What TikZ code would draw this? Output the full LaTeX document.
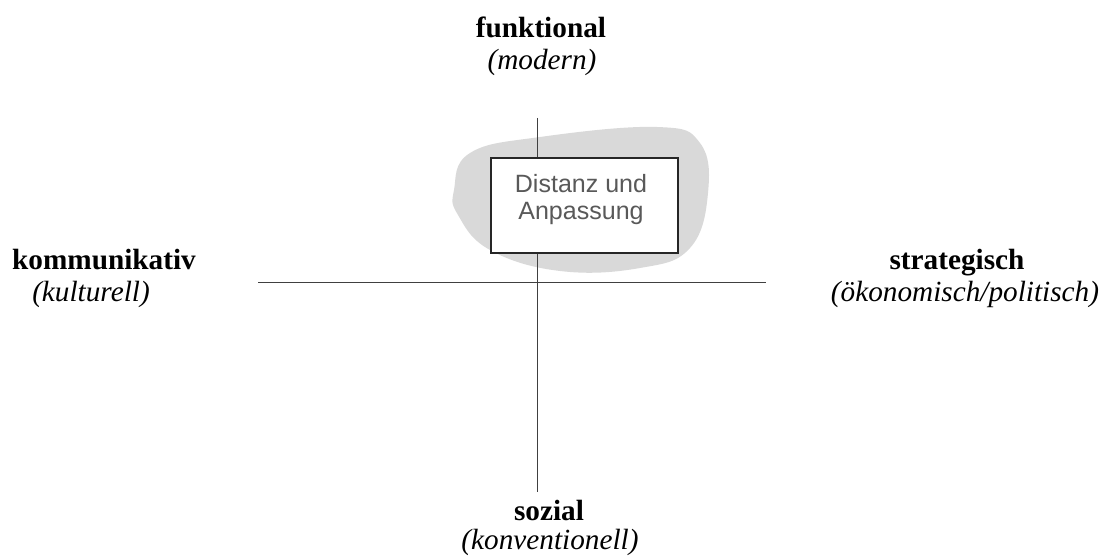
\documentclass[tikz,border=0pt]{standalone}
\usepackage{fontspec}
\setmainfont{Liberation Serif}
\newfontfamily\boxfont{Liberation Sans}
\usetikzlibrary{positioning}

\tikzset{
  pole/.style={font=\fontsize{20.8}{24}\selectfont\bfseries, inner sep=0pt,
    anchor=base},
  polesub/.style={font=\fontsize{20.8}{24}\selectfont\itshape, inner sep=0pt,
    anchor=base},
  axis/.style={draw=black!75, line width=0.7pt},
  quadbox/.style={draw=black!85, fill=white, line width=0.9pt,
    minimum width=4.675cm, minimum height=2.375cm},
  quadtext/.style={font=\boxfont\fontsize{17.8}{19.2}\selectfont, text=black!65,
    align=center, inner sep=0pt}
}

\begin{document}
\begin{tikzpicture}[x=0.025cm,y=-0.025cm]
  \useasboundingbox (0,0) rectangle (1107,557);
  % grey area behind the box
  \fill[black!15] plot[smooth cycle, tension=0.7] coordinates {
    (454,190) (470,153) (540,137) (657,127) (700,143) (708,193)
    (690,248) (640,268) (560,271) (490,250) (458,215)};
  % axes
  \coordinate (N) at (537,118);
  \coordinate (S) at (537,492);
  \coordinate (W) at (258,282);
  \coordinate (E) at (766,282);
  \draw[axis] (W) -- (E);
  \draw[axis] (N) -- (S);
  % box
  \node[quadbox] (distanz) at (584.5,205.5) {};
  \node[quadtext] (distanztext) at (581,200) {Distanz und\\Anpassung};
  % poles
  \node[pole] (funk) at (541,38) {funktional};
  \node[polesub] (funksub) at (542,70) {(modern)};
  \node[pole] (komm) at (104,270) {kommunikativ};
  \node[polesub] (kommsub) at (91,302) {(kulturell)};
  \node[pole] (strat) at (957,270) {strategisch};
  \node[polesub] (stratsub) at (965,302) {(ökonomisch/politisch)};
  \node[pole] (sozial) at (549,520) {sozial};
  \node[polesub] (sozialsub) at (550,550) {(konventionell)};
\end{tikzpicture}
\end{document}
